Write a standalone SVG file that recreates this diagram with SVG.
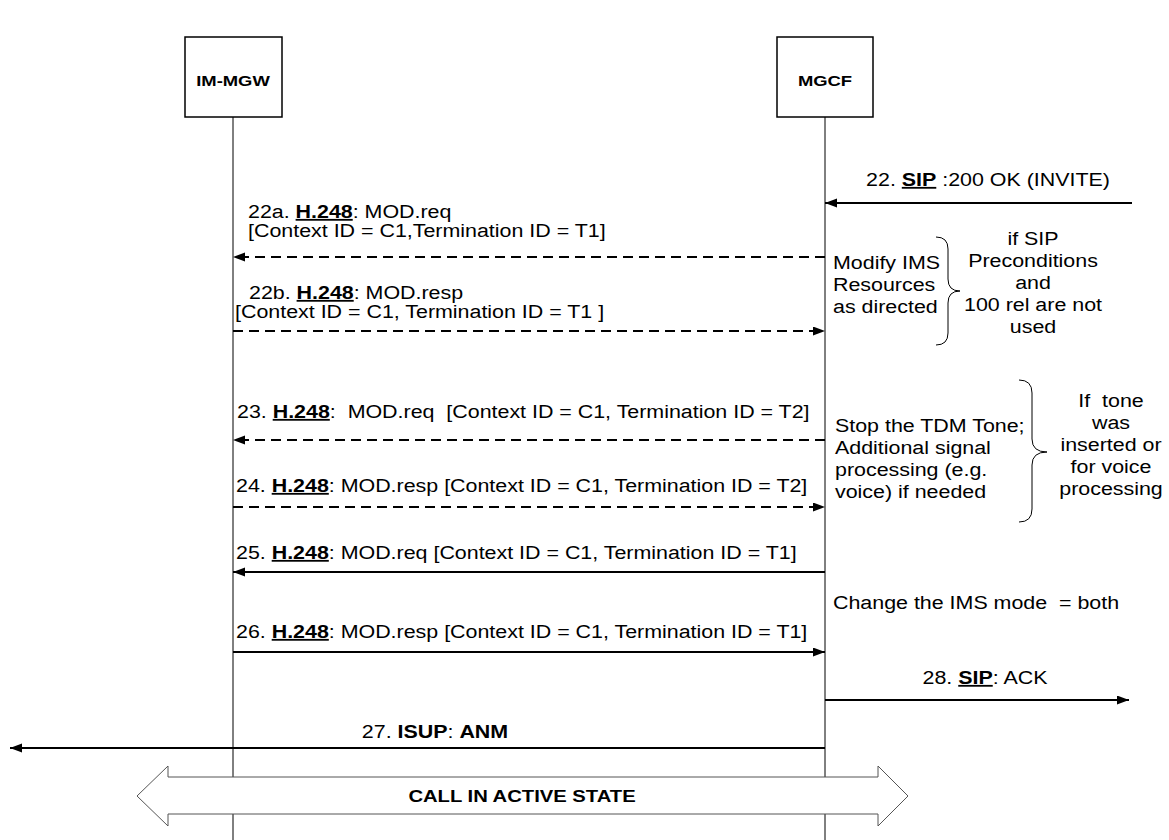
<svg xmlns="http://www.w3.org/2000/svg" width="1169" height="840" viewBox="0 0 1169 840">
<style>
text{font-family:"Liberation Sans",Arial,sans-serif;font-size:18px;fill:#000;white-space:pre}
.b{font-weight:bold}
.u{font-weight:bold;text-decoration:underline}
.hd{font-weight:bold;font-size:15.5px}
.box{fill:#fff;stroke:#000;stroke-width:1.5}
.life{stroke:#000;stroke-width:1}
.msg{stroke:#000;stroke-width:2;fill:none}
.dash{stroke-dasharray:10 6}
.brace{fill:none;stroke:#000;stroke-width:1}
</style>
<defs>
<marker id="ah" markerUnits="userSpaceOnUse" markerWidth="13" markerHeight="10" refX="12" refY="4.5" orient="auto">
<path d="M0,0 L12,4.5 L0,9 z" fill="#000"/>
</marker>
</defs>
<g id="lifelines">
<line class="life" x1="233" y1="117" x2="233" y2="840"/>
<line class="life" x1="825" y1="117" x2="825" y2="840"/>
</g>
<g id="node-im-mgw">
<rect class="box" x="185" y="37" width="97" height="80"/>
<text class="hd" text-anchor="middle" transform="translate(233 86) scale(1.19 1)">IM-MGW</text>
</g>
<g id="node-mgcf">
<rect class="box" x="777" y="37" width="96" height="80"/>
<text class="hd" text-anchor="middle" transform="translate(825 86) scale(1.19 1)">MGCF</text>
</g>
<g id="connectors">
<line class="msg" x1="1132" y1="203" x2="825" y2="203" marker-end="url(#ah)"/>
<line class="msg dash" x1="825" y1="257" x2="233" y2="257" marker-end="url(#ah)"/>
<line class="msg dash" x1="233" y1="331" x2="825" y2="331" marker-end="url(#ah)"/>
<line class="msg dash" x1="825" y1="440" x2="233" y2="440" marker-end="url(#ah)"/>
<line class="msg dash" x1="233" y1="507" x2="825" y2="507" marker-end="url(#ah)"/>
<line class="msg" x1="825" y1="572" x2="233" y2="572" marker-end="url(#ah)"/>
<line class="msg" x1="233" y1="652" x2="825" y2="652" marker-end="url(#ah)"/>
<line class="msg" x1="825" y1="700" x2="1129" y2="700" marker-end="url(#ah)"/>
<line class="msg" x1="825" y1="748" x2="10" y2="748" marker-end="url(#ah)"/>
</g>
<g id="labels">
<text text-anchor="middle" transform="translate(988 186) scale(1.19 1)">22. <tspan class="u">SIP</tspan> :200 OK (INVITE)</text>
<text transform="translate(248 218) scale(1.19 1)">22a. <tspan class="u">H.248</tspan>: MOD.req</text>
<text transform="translate(248 237) scale(1.19 1)">[Context ID = C1,Termination ID = T1]</text>
<text transform="translate(249 299) scale(1.19 1)">22b. <tspan class="u">H.248</tspan>: MOD.resp</text>
<text transform="translate(235 318) scale(1.19 1)">[Context ID = C1, Termination ID = T1 ]</text>
<text transform="translate(237 418) scale(1.19 1)">23. <tspan class="u">H.248</tspan>:  MOD.req  [Context ID = C1, Termination ID = T2]</text>
<text transform="translate(236 492) scale(1.19 1)">24. <tspan class="u">H.248</tspan>: MOD.resp [Context ID = C1, Termination ID = T2]</text>
<text transform="translate(236 559) scale(1.19 1)">25. <tspan class="u">H.248</tspan>: MOD.req [Context ID = C1, Termination ID = T1]</text>
<text transform="translate(236 638) scale(1.19 1)">26. <tspan class="u">H.248</tspan>: MOD.resp [Context ID = C1, Termination ID = T1]</text>
<text text-anchor="middle" transform="translate(985 684) scale(1.19 1)">28. <tspan class="u">SIP</tspan>: ACK</text>
<text text-anchor="middle" transform="translate(435 738) scale(1.19 1)">27. <tspan class="b">ISUP</tspan>: <tspan class="b">ANM</tspan></text>
</g>
<g id="note-modify">
<text transform="translate(833 269) scale(1.19 1)">Modify IMS</text>
<text transform="translate(833 291) scale(1.19 1)">Resources</text>
<text transform="translate(833 313) scale(1.19 1)">as directed</text>
<path class="brace" d="M936,237 Q948,237 948,249 L948,279 Q948,291 960,291 Q948,291 948,303 L948,333 Q948,345 936,345"/>
<text text-anchor="middle" transform="translate(1033 245) scale(1.19 1)">if SIP</text>
<text text-anchor="middle" transform="translate(1033 267) scale(1.19 1)">Preconditions</text>
<text text-anchor="middle" transform="translate(1033 289) scale(1.19 1)">and</text>
<text text-anchor="middle" transform="translate(1033 311) scale(1.19 1)">100 rel are not</text>
<text text-anchor="middle" transform="translate(1033 333) scale(1.19 1)">used</text>
</g>
<g id="note-tone">
<text transform="translate(835 432) scale(1.19 1)">Stop the TDM Tone;</text>
<text transform="translate(835 454) scale(1.19 1)">Additional signal</text>
<text transform="translate(835 476) scale(1.19 1)">processing (e.g.</text>
<text transform="translate(835 498) scale(1.19 1)">voice) if needed</text>
<path class="brace" d="M1019,380 Q1032,380 1032,393 L1032,439 Q1032,452 1047,452 Q1032,452 1032,465 L1032,509 Q1032,522 1019,522"/>
<text text-anchor="middle" transform="translate(1111 407) scale(1.19 1)">If  tone</text>
<text text-anchor="middle" transform="translate(1111 429) scale(1.19 1)">was</text>
<text text-anchor="middle" transform="translate(1111 451) scale(1.19 1)">inserted or</text>
<text text-anchor="middle" transform="translate(1111 473) scale(1.19 1)">for voice</text>
<text text-anchor="middle" transform="translate(1111 495) scale(1.19 1)">processing</text>
</g>
<g id="note-mode">
<text transform="translate(833 609) scale(1.19 1)">Change the IMS mode  = both</text>
</g>
<g id="active-state">
<polygon points="137,796 168,766 168,777 878,777 878,766 908,796 878,826 878,814 168,814 168,826" fill="#fff" stroke="#555" stroke-width="1"/>
<text class="b" text-anchor="middle" transform="translate(522 802) scale(1.19 1)" style="font-size:17px">CALL IN ACTIVE STATE</text>
</g>
</svg>
